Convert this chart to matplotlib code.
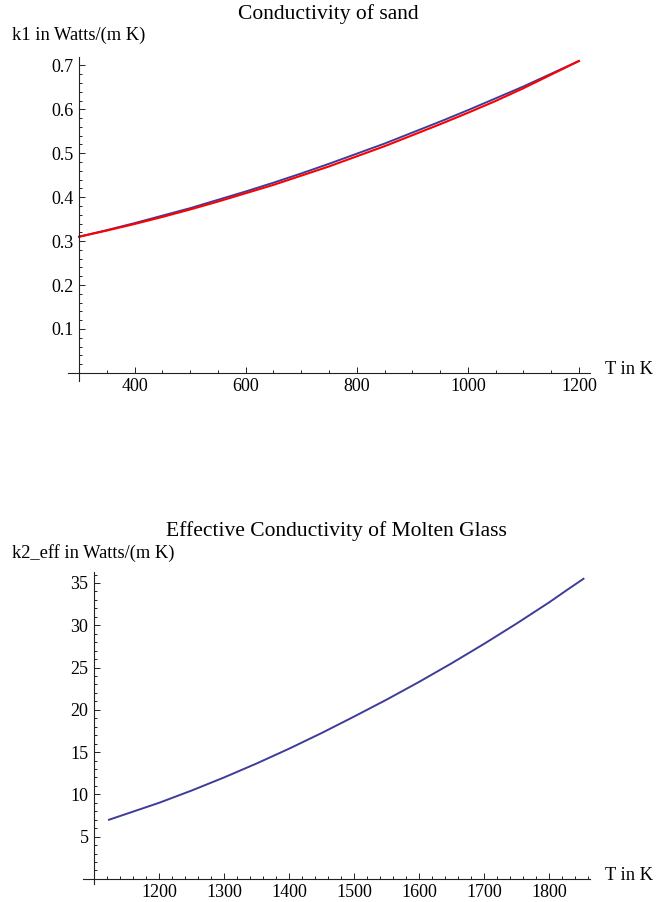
import numpy as np
import matplotlib
matplotlib.use('Agg')
import matplotlib.pyplot as plt
from matplotlib.ticker import MultipleLocator

plt.rcParams['font.family'] = ['Liberation Serif', 'DejaVu Serif']

# sand conductivity (top)
T_sand = [300, 350, 400, 450, 500, 550, 600, 650, 700, 750, 800, 850, 900, 950,
          1000, 1050, 1100, 1150, 1200]
k1_blue = [0.310, 0.325, 0.341, 0.358, 0.375, 0.394, 0.413, 0.433, 0.454, 0.476,
           0.499, 0.522, 0.547, 0.572, 0.598, 0.625, 0.652, 0.681, 0.710]
k1_red = [0.310, 0.324, 0.339, 0.355, 0.372, 0.390, 0.409, 0.428, 0.449, 0.470,
          0.493, 0.516, 0.541, 0.566, 0.592, 0.619, 0.648, 0.679, 0.710]
xt_sand = [400, 600, 800, 1000, 1200]
yt_sand = [0.1, 0.2, 0.3, 0.4, 0.5, 0.6, 0.7]

# molten glass effective conductivity (bottom)
T_glass = [1123, 1150, 1200, 1250, 1300, 1350, 1400, 1450, 1500, 1550, 1600,
           1650, 1700, 1750, 1800, 1830, 1853]
k2_eff = [7.0, 7.7, 9.0, 10.45, 12.0, 13.65, 15.4, 17.25, 19.2, 21.2, 23.3,
          25.5, 27.8, 30.2, 32.7, 34.3, 35.5]
xt_glass = [1200, 1300, 1400, 1500, 1600, 1700, 1800]
yt_glass = [5, 10, 15, 20, 25, 30, 35]

blue = '#3d3d99'
W, H = 656, 902
fig = plt.figure(figsize=(W/100, H/100), dpi=100)

def style(ax, x0, y0, xminor, yminor):
    ax.spines['top'].set_visible(False)
    ax.spines['right'].set_visible(False)
    ax.spines['left'].set_position(('data', x0))
    ax.spines['bottom'].set_position(('data', y0))
    for s in ['left', 'bottom']:
        ax.spines[s].set_linewidth(0.8)
        ax.spines[s].set_color('#222222')
    ax.xaxis.set_minor_locator(MultipleLocator(xminor))
    ax.yaxis.set_minor_locator(MultipleLocator(yminor))
    ax.tick_params(which='both', direction='in', width=0.7, color='#222222', labelsize=13, pad=4)
    ax.tick_params(which='major', length=4.5)
    ax.tick_params(which='minor', length=2.5)
    ax.patch.set_visible(False)

# top panel
ax1 = fig.add_axes([68/W, 1 - 381/H, (590-68)/W, (381-57.5)/H])
ax1.plot(T_sand, k1_blue, color=blue, lw=1.4)
ax1.plot(T_sand, k1_red, color='red', lw=1.5)
ax1.set_xlim(280, 1220)
ax1.set_ylim(-0.0185, 0.718)
ax1.set_xticks(xt_sand, [str(v) for v in xt_sand])
ax1.set_yticks(yt_sand, [str(v) for v in yt_sand])
style(ax1, 300, 0, 50, 0.02)

fig.text(328/W, 1 - 14/H, 'Conductivity of sand', ha='center', va='center', fontsize=15.5)
fig.text(12/W, 1 - 35/H, 'k1 in Watts/(m K)', ha='left', va='center', fontsize=13.3)
fig.text(605/W, 1 - 370/H, 'T in K', ha='left', va='center', fontsize=13.3)

# bottom panel
ax2 = fig.add_axes([83/W, 1 - 884/H, (590-83)/W, (884-572)/H])
ax2.plot(T_glass, k2_eff, color=blue, lw=1.4)
ax2.set_xlim(1083, 1863)
ax2.set_ylim(-0.6, 36.3)
ax2.set_xticks(xt_glass, [str(v) for v in xt_glass])
ax2.set_yticks(yt_glass, [str(v) for v in yt_glass])
style(ax2, 1100, 0, 20, 1)

fig.text(336/W, 1 - 531/H, 'Effective Conductivity of Molten Glass', ha='center', va='center', fontsize=15.5)
fig.text(12/W, 1 - 553/H, 'k2_eff in Watts/(m K)', ha='left', va='center', fontsize=13.3)
fig.text(605/W, 1 - 876/H, 'T in K', ha='left', va='center', fontsize=13.3)

fig.savefig('out.png', dpi=100)
